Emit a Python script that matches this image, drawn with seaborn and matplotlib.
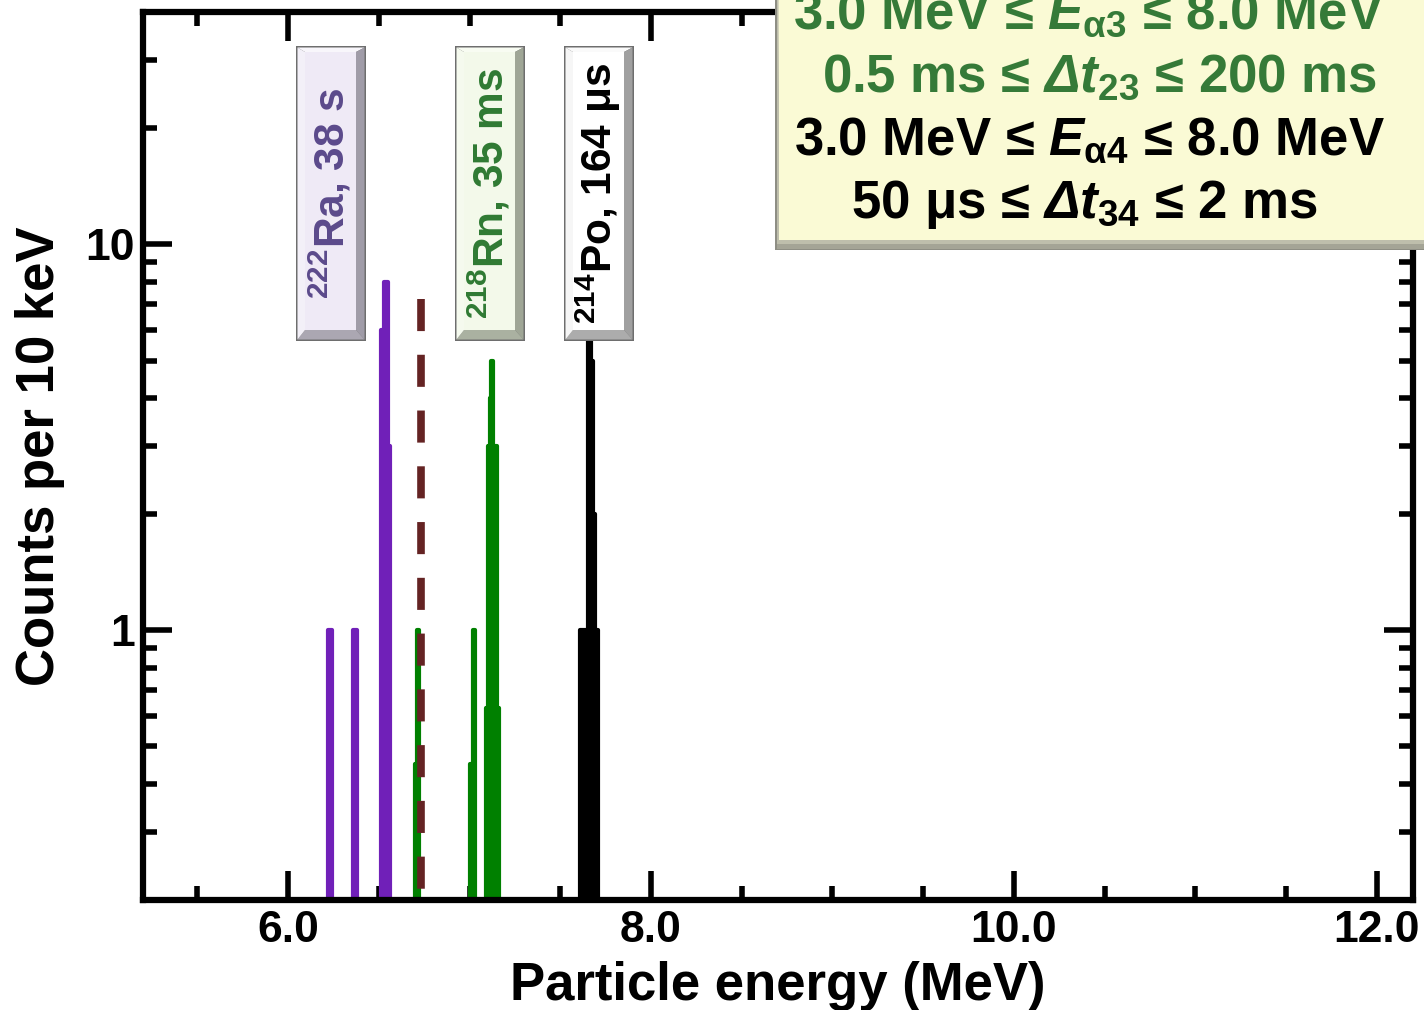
import numpy as np
import pandas as pd
import matplotlib
matplotlib.use("Agg")
import matplotlib.pyplot as plt
import seaborn as sns
from matplotlib.patches import Polygon
from matplotlib.ticker import (MultipleLocator, FixedLocator, FixedFormatter,
                               NullFormatter, FormatStrFormatter)

# ---------------- data ----------------
ra_energy = [6.225, 6.235, 6.365, 6.375, 6.515, 6.525, 6.535, 6.545, 6.555]
ra_counts = [1, 1, 1, 1, 6, 6, 8, 8, 3]

rn_energy = [6.705, 6.715, 7.005, 7.015, 7.025,
             7.095, 7.105, 7.115, 7.125, 7.135, 7.145, 7.155]
rn_counts = [0.45, 1, 0.45, 0.45, 1,
             0.63, 3, 4, 5, 3, 3, 0.63]

po_energy = [7.615, 7.625, 7.635, 7.645, 7.655, 7.665, 7.675, 7.685, 7.695, 7.705]
po_counts = [1, 1, 1, 1, 6, 6, 5, 2, 1, 1]

cut_energy = [6.735, 6.735]
cut_counts = [7.2, 0.2]

nuclide_labels = [r"$^{\mathbf{222}}$Ra, 38 s",
                  r"$^{\mathbf{218}}$Rn, 35 ms",
                  r"$^{\mathbf{214}}$Po, 164 μs"]
conditions = [r"3.0 MeV ≤ $E_{\mathrm{α3}}$ ≤ 8.0 MeV",
              r"0.5 ms ≤ $\mathcal{Δ}t_{\mathrm{23}}$ ≤ 200 ms",
              r"3.0 MeV ≤ $E_{\mathrm{α4}}$ ≤ 8.0 MeV",
              r"50 μs ≤ $\mathcal{Δ}t_{\mathrm{34}}$ ≤ 2 ms"]
y_major = [1, 10]
y_major_labels = ["1", "10"]
y_minor = [0.3, 0.4, 0.5, 0.6, 0.7, 0.8, 0.9, 2, 3, 4, 5, 6, 7, 8, 9, 20, 30]

# ---------------- styling ----------------
PURPLE = "#7020B8"
GREEN = "#008000"
BLACK = "#000000"
BROWN = "#642323"
LEG_GREEN = "#357A38"

sns.set_style("ticks")
plt.rcParams["font.family"] = ["Liberation Sans", "DejaVu Sans"]
plt.rcParams["font.weight"] = "bold"
for k in ["text.color", "axes.labelcolor", "xtick.color", "ytick.color",
          "axes.edgecolor"]:
    plt.rcParams[k] = "black"
plt.rcParams["mathtext.fontset"] = "custom"
plt.rcParams["mathtext.rm"] = "Liberation Sans:bold"
plt.rcParams["mathtext.it"] = "Liberation Sans:bold:italic"
plt.rcParams["mathtext.cal"] = "Liberation Sans:bold:italic"
plt.rcParams["mathtext.bf"] = "Liberation Sans:bold"
plt.rcParams["mathtext.sf"] = "Liberation Sans:bold"

W, H = 1424, 1010
fig = plt.figure(figsize=(W / 100, H / 100), dpi=100)
ax = fig.add_axes([143 / W, 1 - 900 / H, (1413 - 143) / W, (900 - 12) / H])
ax.set_yscale("log")

for e, c, col in [(ra_energy, ra_counts, PURPLE),
                  (rn_energy, rn_counts, GREEN),
                  (po_energy, po_counts, BLACK)]:
    df = pd.DataFrame({"energy": e, "counts": c})
    sns.histplot(data=df, x="energy", weights="counts", binwidth=0.01,
                 binrange=(6.0, 8.0), element="step", fill=True, color=col,
                 alpha=1, linewidth=3, ax=ax)

ax.plot(cut_energy, cut_counts, color=BROWN, lw=5.5, dashes=(4.2, 3.1),
        dash_capstyle="butt", zorder=3)

ax.set_xlim(5.2, 12.2)
ax.set_ylim(0.2, 40)

ax.xaxis.set_major_locator(MultipleLocator(2))
ax.xaxis.set_minor_locator(MultipleLocator(0.5))
ax.xaxis.set_major_formatter(FormatStrFormatter("%.1f"))
ax.yaxis.set_major_locator(FixedLocator(y_major))
ax.yaxis.set_major_formatter(FixedFormatter(y_major_labels))
ax.yaxis.set_minor_locator(FixedLocator(y_minor))
ax.yaxis.set_minor_formatter(NullFormatter())

ax.tick_params(which="both", direction="in", top=True, right=True,
               width=4, color="black", labelcolor="black")
ax.tick_params(which="major", length=21, labelsize=32)
ax.tick_params(axis="x", which="major", pad=7)
ax.tick_params(axis="y", which="major", pad=6)
ax.tick_params(which="minor", length=10)
for s in ax.spines.values():
    s.set_linewidth(4.5)
    s.set_visible(True)
    s.set_color("black")
    s.set_zorder(4)

ax.set_xlabel("Particle energy (MeV)", fontsize=38, fontweight="bold",
              va="baseline", color="black")
ax.xaxis.set_label_coords(0.5, (900 - 1000) / 888)
ax.set_ylabel("Counts per 10 keV", fontsize=38, fontweight="bold",
              va="center", color="black")
ax.yaxis.set_label_coords((40 - 143) / 1270, 0.5)


# ---------------- figure-level boxes ----------------
def P(x, y):
    return (x / W, 1 - y / H)


def poly(pts, color, z=5):
    fig.add_artist(Polygon([P(*p) for p in pts], closed=True, facecolor=color,
                           edgecolor="none", transform=fig.transFigure,
                           zorder=z))


def bevel_box(x0, y0, x1, y1, face, top, left, right, bottom, outline,
              bt=6, bl=9, br=10, bb=11):
    o2 = [(x0 + 1.5, y0 + 1.5), (x1 - 1.5, y0 + 1.5), (x1 - 1.5, y1 - 1.5),
          (x0 + 1.5, y1 - 1.5)]
    i = [(x0 + bl, y0 + bt), (x1 - br, y0 + bt), (x1 - br, y1 - bb),
         (x0 + bl, y1 - bb)]
    poly([(x0, y0), (x1, y0), (x1, y1), (x0, y1)], outline)
    poly([o2[0], o2[1], i[1], i[0]], top)
    poly([o2[1], o2[2], i[2], i[1]], right)
    poly([o2[2], o2[3], i[3], i[2]], bottom)
    poly([o2[3], o2[0], i[0], i[3]], left)
    poly(i, face)


# nuclide label boxes
box_specs = [
    (296, 366, "#EFEAF6", "#F8F6FB", "#F3F0F8", "#A09CA8", "#ABA7B2", "#5B4A8B"),
    (455, 525, "#F3F9EA", "#F8FCF2", "#F5FAEE", "#9FA696", "#AAB1A1", "#2F7A33"),
    (564, 634, "#FFFFFF", "#FAFAFA", "#F6F6F6", "#A0A0A0", "#ACACAC", "#000000"),
]
for (bx0, bx1, face, top, left, right, bottom, tcol), lab in zip(box_specs, nuclide_labels):
    bevel_box(bx0, 46, bx1, 341, face, top, left, right, bottom, "#6E6E6E")
    fig.text(*P((bx0 + bx1) / 2 - 1, 193), lab, rotation=90, ha="center",
             va="center", fontsize=30.5, fontweight="bold", color=tcol,
             family=["Liberation Sans", "DejaVu Sans"], zorder=6)

# conditions box (extends beyond the figure top/right)
lx0, ly0, lx1, ly1 = 775, -60, 1440, 250
poly([(lx0, ly0), (lx1, ly0), (lx1, ly1), (lx0, ly1)], "#8E8E84")
poly([(lx0 + 1.5, ly0), (lx1, ly0), (lx1, ly1 - 1.5), (lx0 + 1.5, ly1 - 1.5)], "#A4A496")
poly([(lx0 + 1.5, ly0), (lx1, ly0), (lx1, ly1 - 6), (lx0 + 1.5, ly1 - 6)], "#BEBEAC")
poly([(lx0 + 1.5, ly0), (lx0 + 6, ly0), (lx0 + 6, ly1 - 6)], "#D8D8BF")
poly([(lx0 + 4, ly0), (lx1, ly0), (lx1, ly1 - 10), (lx0 + 4, ly1 - 10)], "#FAFAD5")

cond_x = [1088, 1100, 1089, 1085]
cond_y = [29, 92, 155, 218]
cond_col = [LEG_GREEN, LEG_GREEN, BLACK, BLACK]
for t, cx, cy, cc in zip(conditions, cond_x, cond_y, cond_col):
    fig.text(*P(cx, cy), t, ha="center", va="baseline", fontsize=38,
             fontweight="bold", color=cc,
             family=["Liberation Sans", "DejaVu Sans"], zorder=6)

fig.savefig("out.png", dpi=100)
